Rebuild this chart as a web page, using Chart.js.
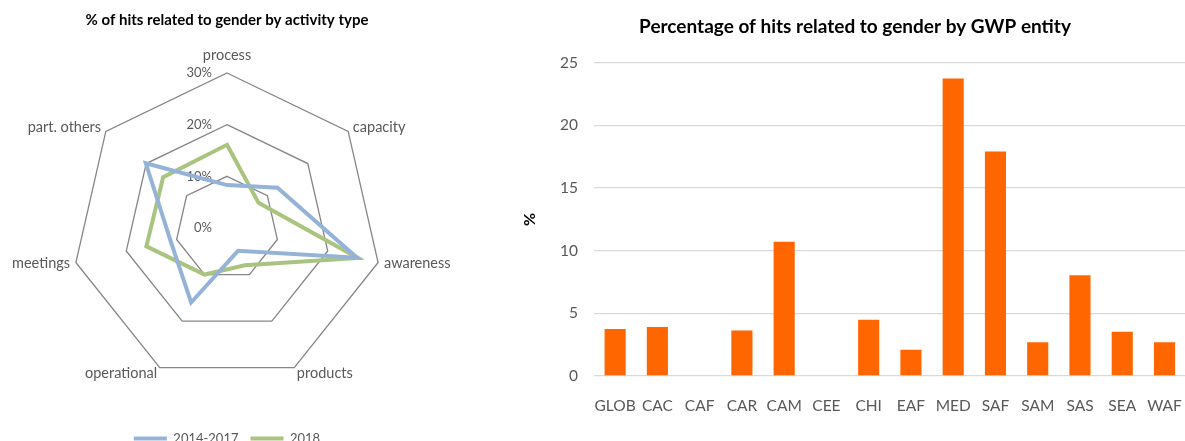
<!DOCTYPE html>
<html>
<head>
<meta charset="utf-8">
<script src="https://cdn.jsdelivr.net/npm/chart.js@4.4.1/dist/chart.umd.min.js"></script>
<style>
	html, body { margin: 0; padding: 0; background: #fff; overflow: hidden; width: 1185px; height: 441px; }
	.box { position: absolute; top: 0; }
	#radar-box { left: 0; width: 460px; height: 455px; }
	#bar-box { left: 520px; width: 675px; height: 441px; }
</style>
</head>
<body>
<div class="box" id="radar-box"><canvas id="activity-radar"></canvas></div>
<div class="box" id="bar-box"><canvas id="entity-bar"></canvas></div>
<script>
//
// Data
//

var activityTypes = ['process', 'capacity', 'awareness', 'products', 'operational', 'meetings', 'part. others'];
var hits2014to2017 = [8.3, 12.5, 25.8, 4.9, 16, 11.2, 20.1];
var hits2018 = [16.1, 7.8, 26, 8, 10, 16, 15.8];

var entities = ['GLOB', 'CAC', 'CAF', 'CAR', 'CAM', 'CEE', 'CHI', 'EAF', 'MED', 'SAF', 'SAM', 'SAS', 'SEA', 'WAF'];
var entityHits = [3.75, 3.91, 0, 3.64, 10.71, 0, 4.49, 2.1, 23.74, 17.92, 2.69, 8.03, 3.54, 2.69];

var FONT = 'Lato, "Open Sans", sans-serif';
var GREY_TEXT = '#595959';


//
// Radar chart
//

// tick labels sit left of the vertical axis, 0% included
var radarTickLabels = {
	id: 'radarTickLabels',
	beforeDatasetsDraw: function(chart) {
		var scale = chart.scales.r;
		var ctx = chart.ctx;
		ctx.save();
		ctx.font = '13px ' + FONT;
		ctx.fillStyle = GREY_TEXT;
		ctx.textAlign = 'right';
		ctx.textBaseline = 'middle';
		scale.ticks.forEach(function(tick) {
			var d = scale.getDistanceFromCenterForValue(tick.value);
			ctx.fillText(tick.value + '%', scale.xCenter - 15, scale.yCenter - d);
		});
		ctx.restore();
	}
};

// category labels centred on their spoke, like the original chart
var radarPointLabels = {
	id: 'radarPointLabels',
	afterDatasetsDraw: function(chart) {
		var scale = chart.scales.r;
		var ctx = chart.ctx;
		ctx.save();
		ctx.font = '14.5px ' + FONT;
		ctx.fillStyle = GREY_TEXT;
		ctx.textBaseline = 'middle';
		chart.data.labels.forEach(function(label, i) {
			var p = scale.getPointPosition(i, scale.drawingArea + 6);
			var dx = p.x - scale.xCenter;
			if (Math.abs(dx) < 2) {
				ctx.textAlign = 'center';
				p = scale.getPointPosition(i, scale.drawingArea + 18);
			} else {
				ctx.textAlign = dx > 0 ? 'left' : 'right';
			}
			ctx.fillText(label, p.x, p.y);
		});
		ctx.restore();
	}
};

new Chart(document.getElementById('activity-radar'), {
	type: 'radar',
	data: {
		labels: activityTypes,
		datasets: [{
			label: '2014-2017',
			data: hits2014to2017,
			borderColor: '#95b3d7',
			backgroundColor: '#95b3d7',
			borderWidth: 4,
			pointRadius: 0,
			fill: false
		}, {
			label: '2018',
			data: hits2018,
			borderColor: '#a9c47f',
			backgroundColor: '#a9c47f',
			borderWidth: 4,
			pointRadius: 0,
			fill: false
		}]
	},
	options: {
		maintainAspectRatio: false,
		animation: false,
		layout: { padding: { left: 72, right: 78, top: 0, bottom: 0 } },
		plugins: {
			title: {
				display: true,
				text: '% of hits related to gender by activity type',
				color: '#000',
				font: { family: FONT, size: 15, weight: 'bold' },
				padding: { top: 11, bottom: 44 }
			},
			legend: {
				position: 'bottom',
				// empty title only adds room above the legend row
				title: { display: true, text: ' ', font: { size: 10 }, padding: { top: 12, bottom: 13 } },
				labels: {
					usePointStyle: true,
					pointStyle: 'line',
					pointStyleWidth: 33,
					color: GREY_TEXT,
					font: { family: FONT, size: 13 },
					padding: 12
				}
			},
			tooltip: { enabled: false }
		},
		scales: {
			r: {
				min: 0,
				max: 30,
				ticks: { stepSize: 10, display: false },
				grid: { color: '#868686', lineWidth: 1.3 },
				angleLines: { display: false },
				pointLabels: { display: false }
			}
		}
	},
	plugins: [radarTickLabels, radarPointLabels]
});


//
// Bar chart
//

new Chart(document.getElementById('entity-bar'), {
	type: 'bar',
	data: {
		labels: entities,
		datasets: [{
			label: '%',
			data: entityHits,
			backgroundColor: '#ff6600',
			borderWidth: 0,
			categoryPercentage: 1,
			barPercentage: 0.5
		}]
	},
	options: {
		maintainAspectRatio: false,
		animation: false,
		layout: { padding: { left: 0, right: 5, top: 0, bottom: 0 } },
		plugins: {
			title: {
				display: true,
				text: 'Percentage of hits related to gender by GWP entity',
				color: '#000',
				font: { family: FONT, size: 19, weight: 'bold' },
				padding: { top: 15.5, bottom: 24.4 }
			},
			legend: { display: false },
			tooltip: { enabled: false }
		},
		scales: {
			x: {
				grid: { display: false },
				border: { display: false },
				ticks: { color: GREY_TEXT, font: { family: FONT, size: 15.5 }, padding: 13, maxRotation: 0, autoSkip: false },
				afterFit: function(scale) { scale.height = 65; }
			},
			y: {
				min: 0,
				max: 25,
				ticks: { stepSize: 5, color: GREY_TEXT, font: { family: FONT, size: 15.5 }, padding: 16 },
				grid: { color: '#d9d9d9', lineWidth: 1.3, drawTicks: false },
				border: { display: false },
				title: { display: true, text: '%', color: '#000', font: { family: FONT, size: 16, weight: 'bold' }, padding: 0 },
				afterFit: function(scale) { scale.width = 74; }
			}
		}
	}
});
</script>
</body>
</html>
